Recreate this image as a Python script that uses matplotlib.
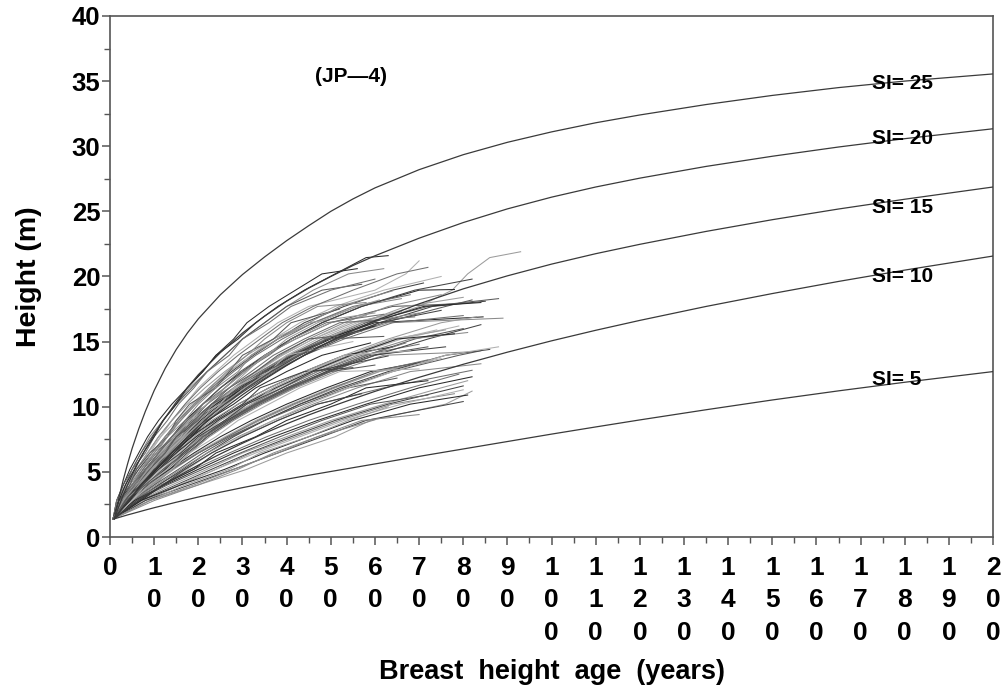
import numpy as np
import matplotlib
matplotlib.use('Agg')
import matplotlib.pyplot as plt
from matplotlib.ticker import MultipleLocator

plt.rcParams['font.family'] = ['Liberation Sans', 'DejaVu Sans']
plt.rcParams['font.weight'] = 'bold'

# site index curves, breast height age with base age 50
curve_ages = [1, 2, 3, 4, 5, 6.5, 8, 10, 12.5, 15, 17.5, 20, 25, 30, 35, 40, 45, 50,
              55, 60, 70, 80, 90, 100, 110, 120, 135, 150, 165, 180, 200]
si_classes = [5, 10, 15, 20, 25]
si5 = [1.4, 1.5, 1.6, 1.7, 1.79, 1.93, 2.07, 2.25, 2.46, 2.67, 2.87, 3.07, 3.44, 3.79, 4.12, 4.44,
       4.74, 5.03, 5.32, 5.61, 6.19, 6.76, 7.33, 7.9, 8.45, 8.99, 9.77, 10.52, 11.22, 11.88, 12.7]
si10 = [1.4, 1.67, 1.94, 2.19, 2.44, 2.79, 3.13, 3.57, 4.09, 4.59, 5.07, 5.52, 6.38, 7.2, 7.97, 8.69,
        9.37, 10.0, 10.6, 11.18, 12.26, 13.26, 14.19, 15.06, 15.87, 16.63, 17.7, 18.69, 19.62, 20.49, 21.57]
si15 = [1.4, 1.85, 2.29, 2.72, 3.14, 3.76, 4.36, 5.12, 5.99, 6.82, 7.6, 8.32, 9.67, 10.92, 12.1, 13.17,
        14.15, 15.05, 15.85, 16.6, 17.9, 19.05, 20.05, 20.95, 21.75, 22.47, 23.46, 24.36, 25.18, 25.93, 26.87]
si20 = [1.4, 2.35, 3.23, 4.03, 4.77, 5.79, 6.72, 7.86, 9.16, 10.36, 11.46, 12.46, 14.16, 15.66, 16.96, 18.11,
        19.11, 20.0, 20.84, 21.59, 22.94, 24.14, 25.19, 26.09, 26.87, 27.55, 28.45, 29.23, 29.94, 30.58, 31.34]
si25 = [1.4, 3.0, 4.4, 5.65, 6.8, 8.3, 9.65, 11.25, 12.95, 14.4, 15.65, 16.75, 18.6, 20.15, 21.5, 22.75,
        23.9, 25.0, 25.95, 26.8, 28.2, 29.35, 30.3, 31.1, 31.8, 32.4, 33.2, 33.9, 34.5, 35.0, 35.55]
si_curves = [si5, si10, si15, si20, si25]
# label heights for the curve names
si_label_y = [12.2, 20.1, 25.45, 30.75, 34.97]

# stem analysis: every tree starts at breast height, then passes the disc heights
bh_age = 0.7
bh_height = 1.4
disc_heights = [2.8, 4.0, 5.2, 6.45, 7.7, 8.95, 10.2, 11.45, 12.7, 13.95,
                15.2, 16.45, 17.7, 18.95, 20.2, 21.45]
# (top height, ages at successive discs; the last age belongs to the top)
trees = [
    (21.6, [1.5, 3, 4.5, 6.5, 8.5, 11, 14, 17.5, 21, 24, 29, 33, 38, 44, 51, 58, 63]),
    (20.6, [2, 3.5, 5, 7, 9, 12, 15, 18, 22, 26, 30, 35, 40, 46, 54, 62]),
    (19.4, [1.5, 3, 5, 7, 9.5, 12, 15, 18.5, 22, 26, 30, 35, 40, 48, 57]),
    (21.2, [2.5, 4.5, 6.5, 9, 11.5, 14, 17, 20, 24, 28, 33, 38, 45, 60, 67, 70]),
    (20.7, [2, 4, 6, 8.5, 11, 14, 17, 20.5, 24.5, 29, 34, 39, 46, 55, 65, 72]),
    (21.9, [3.5, 7, 10.5, 13.5, 17, 21.5, 25.5, 30.5, 36.5, 44, 51, 59.5, 70, 77.5, 81, 86, 93]),
    (19.5, [2, 4, 6.5, 9.5, 12.5, 15.5, 19, 23, 27.5, 32.5, 38, 44, 53, 64, 71]),
    (19.0, [3, 5.5, 8, 11, 14, 17, 21, 25, 30, 35, 41, 48, 57, 70, 78]),
    (18.3, [2.5, 4.5, 7, 9.5, 12.5, 15.5, 19, 23, 27, 32, 38, 46, 56, 66]),
    (17.9, [3, 5, 7.5, 10.5, 14, 17.5, 21, 25, 29.5, 35, 42, 50, 64, 78]),
    (20.0, [2, 4, 6, 8.5, 11.5, 15, 18.5, 22.5, 27, 32, 37, 43, 51, 62, 75]),
    (18.6, [2.5, 5, 7.5, 10, 13, 16, 19.5, 23.5, 28, 33, 39, 46, 55, 68]),
    (17.2, [2, 4, 6, 8.5, 11, 14, 17.5, 21.5, 26, 31, 37, 45, 60]),
    (19.8, [3, 5.5, 8.5, 11.5, 15, 18.5, 22, 26, 30.5, 35.5, 41, 48, 57, 69, 82]),
    (16.9, [3.5, 7, 10.5, 14, 17.5, 21.5, 25.5, 30, 35, 41, 49, 60, 84.5]),
    (16.8, [4, 7.5, 11, 14.5, 18, 22, 26.5, 31, 36.5, 43, 51, 63, 89]),
    (18.2, [3, 6, 9, 12.5, 16, 20, 24.5, 30, 36, 42.5, 51.5, 62, 76, 82]),
    (17.6, [2.5, 5.5, 8.5, 12, 15.5, 19, 23.5, 28.5, 34, 40, 47, 56, 68]),
    (17.0, [3.5, 7, 10, 13.5, 17, 21, 25.5, 31, 37, 44, 53, 64, 80]),
    (17.3, [2, 5, 8, 11.5, 15, 19, 23, 28, 33, 39, 46, 55, 66]),
    (18.1, [3, 6.5, 9.5, 13, 16.5, 21, 26, 31.5, 37.5, 44, 52, 61, 73, 85]),
    (16.2, [4, 7, 10, 13, 16.5, 20.5, 25, 30, 35.5, 42, 50, 60]),
    (17.2, [2.5, 6, 9.5, 13, 16.5, 20, 24, 29, 35, 41, 48, 57, 70]),
    (18.3, [3, 6, 9, 12, 15.5, 19.5, 24, 29, 34.5, 41, 49, 58, 72, 88]),
    (17.0, [3.5, 6.5, 9.5, 13, 16.5, 20, 24, 28.5, 33.5, 39, 46, 54, 64]),
    (15.8, [2.5, 5, 8, 11, 14.5, 18.5, 23, 28, 34, 40.5, 48, 57]),
    (18.4, [3, 6, 9.5, 13, 17, 21, 25.5, 30.5, 36, 42, 49, 57, 67, 80]),
    (17.4, [4.5, 7.5, 10.5, 14, 17.5, 21.5, 26, 31, 36.5, 43, 51, 61, 75]),
    (18.0, [2, 5, 8.5, 12, 15.5, 19.5, 24, 29.5, 35, 41.5, 49.5, 59, 71, 84]),
    (18.6, [3, 6, 9, 12.5, 16, 19.5, 23.5, 28, 33, 38.5, 45, 53, 63, 75]),
    (16.0, [4, 8.5, 12.5, 16.5, 20.5, 26.5, 32.5, 40, 48, 58, 69, 80]),
    (16.2, [3.5, 7.5, 11.5, 15.5, 19.5, 25, 31, 38, 46, 55, 66, 79]),
    (14.8, [5, 9, 13, 17, 21, 26, 32, 39, 47, 57, 70]),
    (15.9, [3, 7, 11, 15, 19, 24, 30, 37, 45, 54, 64, 76]),
    (16.3, [4.5, 9, 13.5, 17.5, 22, 27.5, 33.5, 41, 49.5, 60, 72, 84]),
    (14.6, [3, 6.5, 10.5, 14.5, 18.5, 23.5, 29, 36, 44, 53, 64]),
    (15.7, [4, 8, 12, 16, 20.5, 26, 32, 39, 47, 56, 68, 81]),
    (14.6, [5, 9.5, 14, 18, 22, 27.5, 34, 41.5, 50, 60, 72]),
    (15.9, [3.5, 8, 12, 16, 20, 25, 31, 38, 46, 55, 65, 74]),
    (14.9, [4, 8, 12.5, 17, 21.5, 27, 33.5, 41, 49, 58, 67]),
    (16.9, [2.5, 6, 10, 14, 18, 23, 29, 36, 44, 53, 63, 75, 83]),
    (14.6, [4.5, 8.5, 12.5, 16.5, 21, 26.5, 33, 40.5, 49, 59, 76]),
    (15.6, [3, 7, 11, 15, 19.5, 24.5, 30.5, 37.5, 45.5, 54.5, 65, 78]),
    (14.2, [5.5, 10, 14, 18, 22.5, 28, 34.5, 42, 51, 62, 81]),
    (14.3, [5, 10, 15.5, 21, 27.5, 35, 43, 53, 64, 79, 84]),
    (13.7, [4, 9, 14, 19.5, 26, 33, 41, 50, 61, 75]),
    (12.8, [6, 11, 17, 23, 30, 38, 47, 62, 82]),
    (13.5, [4.5, 9.5, 14.5, 20, 26.5, 34, 42, 51, 61, 73]),
    (14.4, [5.5, 11, 16.5, 22, 28, 35, 43, 52, 63, 76, 86]),
    (13.4, [4, 8.5, 13.5, 19, 25, 32, 40, 49, 59, 70]),
    (13.3, [5, 10.5, 16, 22, 29, 37, 46, 56, 68, 84]),
    (12.2, [4.5, 9, 14, 20, 27, 35, 44, 54, 65]),
    (14.6, [6.5, 12, 17.5, 23, 29.5, 37, 45, 54, 64, 76, 88]),
    (13.6, [3.5, 8.5, 14, 20, 26.5, 33.5, 41.5, 50.5, 60, 72]),
    (12.0, [6.5, 14, 22, 30, 40, 50, 62, 75, 81]),
    (11.6, [7, 15, 23, 31.5, 41, 51, 63, 80]),
    (12.3, [5.5, 12.5, 20, 28, 37, 47, 58, 70, 82]),
    (11.0, [8, 16, 24, 32, 42, 52, 64, 78]),
    (10.9, [6, 13, 21, 29.5, 38.5, 48, 59, 72]),
    (11.3, [7.5, 15.5, 24, 33, 43, 53, 66, 80]),
    (12.5, [5, 11.5, 19, 27, 35.5, 45, 56, 68, 79]),
    (11.2, [9, 20, 31, 40, 51, 59, 76, 82]),
    (10.4, [8, 18, 28, 38, 48, 58, 80]),
    (10.9, [7, 16, 26, 35, 45, 55, 68, 81]),
    (9.4, [10, 20, 29, 37, 47, 57, 70]),
    (17.5, [2, 4.5, 6, 9, 13, 15, 18, 24, 27, 30, 37, 41, 52]),
    (15.0, [3, 5, 9, 11, 16, 18, 25, 28, 36, 40, 55]),
    (19.8, [1.5, 3.5, 5, 8, 10, 13, 15.5, 19, 22, 27, 30, 36, 41, 50, 60]),
    (17.0, [4, 6.5, 10, 12, 15.5, 19, 21, 27, 31, 35, 42, 50, 58]),
    (13.0, [3, 7, 10, 15, 18, 24, 30, 34, 44, 55]),
    (12.0, [7, 12, 19, 24, 33, 40, 50, 58, 72]),
    (18.9, [2.5, 5, 7, 10.5, 13, 17, 20, 24, 29, 32, 38, 45, 52, 64]),
    (15.4, [2, 6, 8, 12, 15, 20, 23, 30, 35, 43, 49, 62]),
    (14.3, [5, 8, 13, 16, 21, 25, 32, 37, 45, 53, 68]),
    (17.1, [3, 5.5, 8.5, 11, 14, 18, 21, 26, 30, 36, 41, 49, 62]),
    (10.0, [9, 17, 27, 34, 45, 54, 63]),
    (13.9, [4, 7.5, 11, 16, 20, 26, 31, 39, 46, 63]),
    (20.6, [2, 3.5, 5.5, 7.5, 10, 12, 15, 17.5, 21, 24, 28, 31, 36, 42, 48, 56]),
    (18.0, [3, 5, 7, 10, 12.5, 16, 19, 22.5, 26.5, 31, 35, 40, 47, 58]),
    (15.5, [3.5, 6, 9, 12.5, 15, 19, 23, 27, 33, 38, 45, 53]),
    (12.9, [5, 9, 14, 18, 24, 29, 36, 43, 52, 70]),
    (16.9, [2.5, 5, 8, 11, 14, 17.5, 22, 27, 32, 37, 44, 52, 69]),
    (18.2, [3, 6, 8.5, 12, 14.5, 18, 22, 26, 30.5, 35.5, 40, 47, 56, 61]),
    (11.0, [6, 12, 17, 23, 30, 38, 47, 57]),
    (14.9, [4.5, 7, 10.5, 14, 18.5, 22, 28, 33, 40, 48, 59]),
    (9.0, [9, 19, 28, 38, 47, 60]),
    (13.2, [3.5, 8, 12, 17, 21, 27, 33, 40, 50, 60]),
]

x_ticks = list(range(0, 201, 10))
y_ticks = list(range(0, 41, 5))

fig = plt.figure(figsize=(10.05, 6.94), dpi=100)
ax = fig.add_axes([0.1095, 0.2262, 0.8786, 0.7508])

grays = ['#2a2a2a', '#8a8a8a', '#5a5a5a', '#b0b0b0', '#707070', '#9c9c9c', '#444444']
for i, (top, ages) in enumerate(trees):
    xs = [bh_age] + ages
    ys = [bh_height] + disc_heights[:len(ages) - 1] + [top]
    ax.plot(xs, ys, color=grays[i % len(grays)], lw=0.75, zorder=2)

for si, hts, ly in zip(si_classes, si_curves, si_label_y):
    ax.plot(curve_ages, hts, color='#3a3a3a', lw=0.9, zorder=3)
    ax.text(172.5, ly - 0.55, 'SI= %d' % si, fontsize=15, fontweight='bold',
            ha='left', va='baseline', zorder=4)

ax.text(54.5, 35.35, '(JP\u20144)', fontsize=15, fontweight='bold',
        ha='center', va='center')

ax.set_xlim(0, 200)
ax.set_ylim(0, 40)
ax.set_xticks(x_ticks)
ax.set_xticklabels(['\n'.join(str(v)) for v in x_ticks], fontsize=19,
                   fontweight='bold', linespacing=1.45)
ax.set_yticks(y_ticks)
ax.set_yticklabels([str(v) for v in y_ticks], fontsize=18.5, fontweight='bold')
ax.xaxis.set_minor_locator(MultipleLocator(5))
ax.yaxis.set_minor_locator(MultipleLocator(2.5))
ax.tick_params(which='major', length=6, width=1.1, color='#555555', pad=7.5)
ax.tick_params(axis='y', which='major', pad=1)
ax.tick_params(which='minor', length=4, width=1.0, color='#555555')
for sp in ax.spines.values():
    sp.set_color('#555555')
    sp.set_linewidth(1.2)

ax.set_xlabel('Breast  height  age  (years)', fontsize=19.5, fontweight='bold')
ax.xaxis.label.set_va('center')
ax.xaxis.set_label_coords(0.5, -0.259)
ax.set_ylabel('Height (m)', fontsize=20.5, fontweight='bold')
ax.yaxis.label.set_va('center')
ax.yaxis.set_label_coords(-0.0917, 0.5)

fig.savefig('out.png', dpi=100)
